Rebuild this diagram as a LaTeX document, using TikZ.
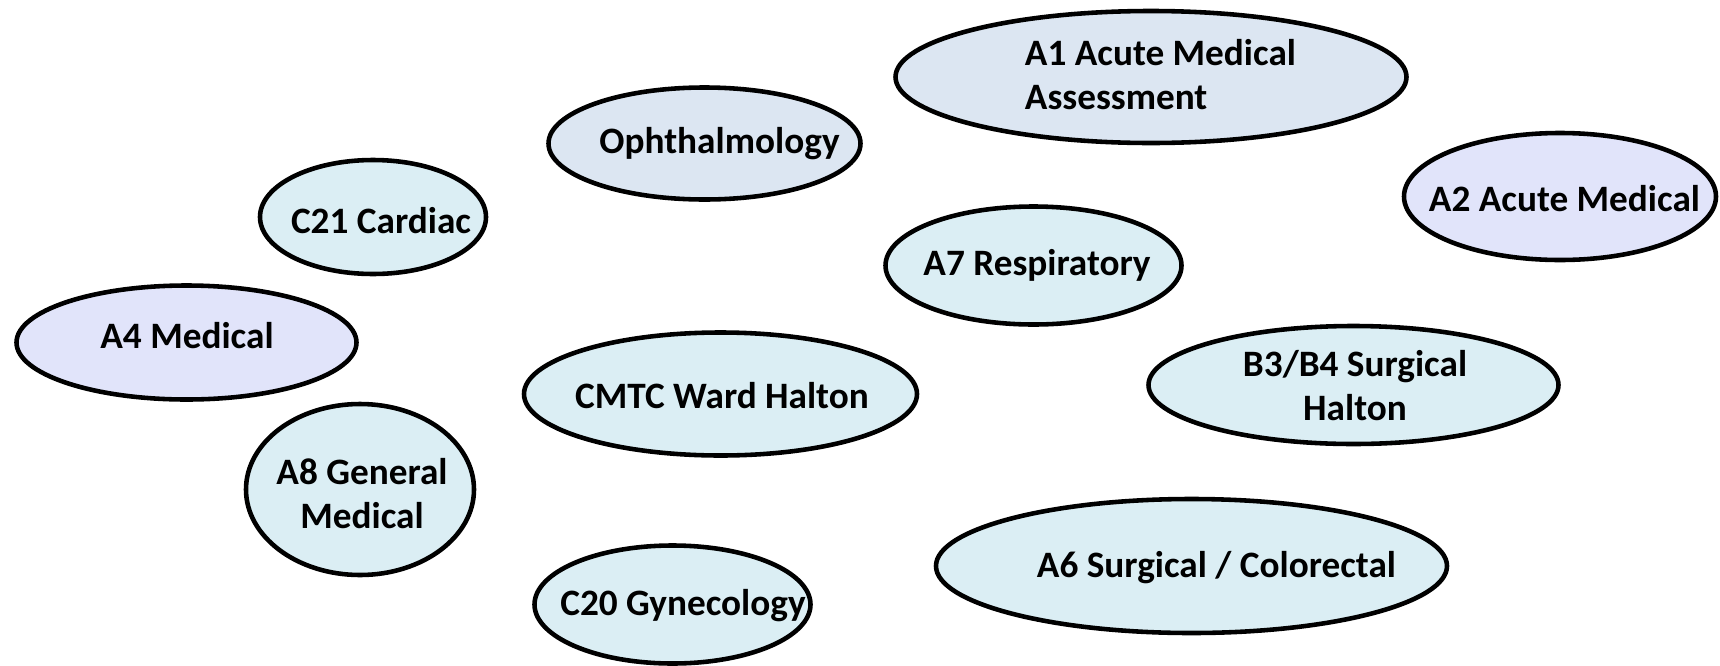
\documentclass[tikz,border=0pt]{standalone}
\usepackage{fontspec}
\setmainfont{Carlito}
\usepackage{tikz}

\definecolor{aqua}{HTML}{DBEEF4}
\definecolor{greyblue}{HTML}{DCE6F2}
\definecolor{lavender}{HTML}{E1E4FA}

\begin{document}
\begin{tikzpicture}[line width=2.6pt, every node/.style={font=\bfseries\fontsize{21.2}{25}\selectfont, align=center}]
    \useasboundingbox (0,0) rectangle (34.4,-13.3);

    % Salas
    \draw[fill=greyblue] (23.02,-1.54) ellipse (5.11cm and 1.32cm);
    \draw[fill=greyblue] (14.09,-2.87) ellipse (3.12cm and 1.12cm);
    \draw[fill=aqua] (7.46,-4.34) ellipse (2.26cm and 1.14cm);
    \draw[fill=lavender] (31.2,-3.93) ellipse (3.12cm and 1.27cm);
    \draw[fill=aqua] (20.67,-5.31) ellipse (2.96cm and 1.18cm);
    \draw[fill=lavender] (3.73,-6.85) ellipse (3.40cm and 1.14cm);
    \draw[fill=aqua] (14.41,-7.88) ellipse (3.93cm and 1.23cm);
    \draw[fill=aqua] (27.07,-7.70) ellipse (4.10cm and 1.18cm);
    \draw[fill=aqua] (7.20,-9.79) ellipse (2.28cm and 1.71cm);
    \draw[fill=aqua] (23.83,-11.32) ellipse (5.11cm and 1.34cm);
    \draw[fill=aqua] (13.45,-12.09) ellipse (2.76cm and 1.18cm);

    % Nombres
    \node[align=left] (a1) at (23.21,-1.49) {A1 Acute Medical\\Assessment};
    \node (oph) at (14.39,-2.87) {Ophthalmology};
    \node (c21) at (7.62,-4.41) {C21 Cardiac};
    \node (a2) at (31.29,-3.97) {A2 Acute Medical};
    \node (a7) at (20.74,-5.31) {A7 Respiratory};
    \node (a4) at (3.74,-6.71) {A4 Medical};
    \node (cmtc) at (14.44,-7.92) {CMTC Ward Halton};
    \node (b3b4) at (27.10,-7.71) {B3/B4 Surgical\\Halton};
    \node (a8) at (7.24,-9.87) {A8 General\\Medical};
    \node (a6) at (24.33,-11.36) {A6 Surgical / Colorectal};
    \node (c20) at (13.66,-12.11) {C20 Gynecology};
\end{tikzpicture}
\end{document}
